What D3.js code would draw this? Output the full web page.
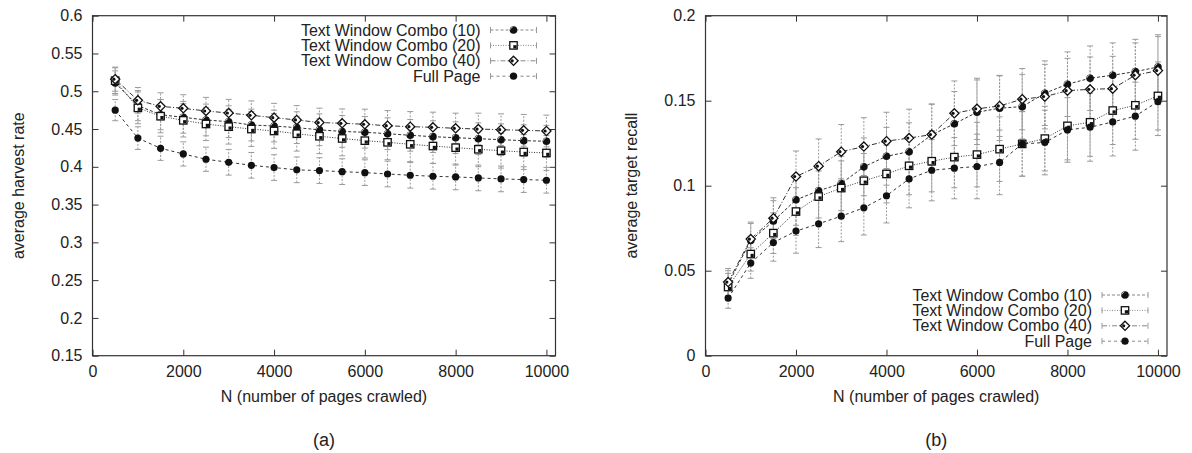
<!DOCTYPE html>
<html>
<head>
<meta charset="utf-8">
<script src="https://cdn.jsdelivr.net/npm/d3@7"></script>
<style>
  body { margin: 0; background: #fff; }
  svg text { font-family: "Liberation Sans", Arial, sans-serif; fill: #222; }
</style>
</head>
<body>
<svg id="chart" width="1192" height="453"></svg>
<script>
// ---- data ----
var pages = [500, 1000, 1500, 2000, 2500, 3000, 3500, 4000, 4500, 5000,
             5500, 6000, 6500, 7000, 7500, 8000, 8500, 9000, 9500, 10000];
var xTicks = [0, 2000, 4000, 6000, 8000, 10000];
var harvestTicks = [0.15, 0.2, 0.25, 0.3, 0.35, 0.4, 0.45, 0.5, 0.55, 0.6];
var recallTicks = [0, 0.05, 0.1, 0.15, 0.2];
var seriesNames = ["Text Window Combo (10)", "Text Window Combo (20)", "Text Window Combo (40)", "Full Page"];

// (a) average harvest rate
var harvest10 = [0.511, 0.481, 0.469, 0.4655, 0.462, 0.4597, 0.4553, 0.454, 0.4518, 0.449,
                 0.4468, 0.4457, 0.4438, 0.4417, 0.4399, 0.4385, 0.4372, 0.4359, 0.4346, 0.4338];
var harvest20 = [0.514, 0.478, 0.467, 0.4615, 0.4567, 0.4531, 0.45, 0.4474, 0.4438, 0.4404,
                 0.4375, 0.4346, 0.4324, 0.4298, 0.4275, 0.4253, 0.4232, 0.4213, 0.4196, 0.4183];
var harvest40 = [0.516, 0.488, 0.48, 0.4774, 0.4739, 0.4712, 0.4682, 0.465, 0.462, 0.4586,
                 0.4576, 0.4563, 0.4544, 0.4531, 0.4523, 0.451, 0.45, 0.4491, 0.4483, 0.4474];
var harvestFull = [0.475, 0.438, 0.4245, 0.417, 0.41, 0.406, 0.402, 0.399, 0.396, 0.395,
                   0.3936, 0.3923, 0.3905, 0.3888, 0.3875, 0.3866, 0.3853, 0.384, 0.3831, 0.3822];
var harvestErr10 = [0.016, 0.02, 0.02, 0.021, 0.021, 0.021, 0.021, 0.021, 0.021, 0.021,
                    0.021, 0.021, 0.021, 0.021, 0.021, 0.021, 0.021, 0.021, 0.021, 0.021];
var harvestErr20 = [0.017, 0.021, 0.022, 0.022, 0.022, 0.023, 0.023, 0.023, 0.023, 0.023,
                    0.023, 0.023, 0.023, 0.023, 0.023, 0.023, 0.023, 0.023, 0.023, 0.023];
var harvestErr40 = [0.016, 0.017, 0.018, 0.018, 0.018, 0.018, 0.019, 0.019, 0.019, 0.019,
                    0.019, 0.02, 0.02, 0.02, 0.02, 0.02, 0.021, 0.021, 0.021, 0.021];
var harvestErrFull = [0.014, 0.015, 0.016, 0.016, 0.016, 0.017, 0.017, 0.017, 0.017, 0.017,
                      0.017, 0.017, 0.017, 0.017, 0.017, 0.017, 0.017, 0.017, 0.017, 0.017];

// (b) average target recall
var recall10 = [0.042, 0.0678, 0.0792, 0.0917, 0.097, 0.1013, 0.1111, 0.1173, 0.12, 0.1299,
                0.1364, 0.1432, 0.1456, 0.1465, 0.1544, 0.1597, 0.1632, 0.165, 0.1671, 0.1698];
var recall20 = [0.0404, 0.0598, 0.0721, 0.0848, 0.0936, 0.0986, 0.1029, 0.1069, 0.1117, 0.1144,
                0.1168, 0.1183, 0.1215, 0.1246, 0.1277, 0.1352, 0.1373, 0.1442, 0.1473, 0.1528];
var recall40 = [0.0433, 0.0686, 0.0809, 0.1054, 0.1115, 0.12, 0.123, 0.1262, 0.128, 0.1301,
                0.1426, 0.1452, 0.1469, 0.1509, 0.1524, 0.1559, 0.1567, 0.1571, 0.165, 0.1677];
var recallFull = [0.0339, 0.0545, 0.0666, 0.0733, 0.0776, 0.0821, 0.087, 0.0941, 0.104, 0.1091,
                  0.1103, 0.1113, 0.1137, 0.1246, 0.1254, 0.1328, 0.1344, 0.1375, 0.1409, 0.1495];
var recallErr10 = [0.008, 0.01, 0.012, 0.015, 0.016, 0.016, 0.017, 0.017, 0.017, 0.018,
                   0.019, 0.019, 0.019, 0.019, 0.019, 0.019, 0.019, 0.019, 0.019, 0.019];
var recallErr20 = [0.008, 0.01, 0.012, 0.014, 0.015, 0.016, 0.016, 0.017, 0.017, 0.018,
                   0.018, 0.019, 0.019, 0.019, 0.019, 0.02, 0.02, 0.02, 0.02, 0.02];
var recallErr40 = [0.008, 0.01, 0.012, 0.015, 0.016, 0.016, 0.017, 0.017, 0.017, 0.018,
                   0.019, 0.018, 0.018, 0.018, 0.019, 0.019, 0.019, 0.019, 0.019, 0.02];
var recallErrFull = [0.006, 0.009, 0.011, 0.013, 0.014, 0.015, 0.016, 0.016, 0.017, 0.018,
                     0.018, 0.019, 0.019, 0.019, 0.019, 0.019, 0.02, 0.02, 0.02, 0.02];

// ---- styles per series ----
var markerKinds = ["half", "square", "diamond", "dot"];
var dashes = ["3,2", "1,1.5", "5,2,1,2", "3,3"];

var svg = d3.select("#chart");

function drawMarker(g, kind, x, y) {
    if (kind == "half") {
        // black disc with a white crescent top-left
        g.append("circle").attr("cx", x).attr("cy", y).attr("r", 3.8).attr("fill", "#111");
        g.append("path")
            .attr("d", "M" + (x - 3.3) + "," + (y + 0.2) + " A3.4,3.4 0 0 1 " + (x - 0.2) + "," + (y - 3.3) +
                       " A5.5,5.5 0 0 0 " + (x - 3.3) + "," + (y + 0.2) + "Z")
            .attr("fill", "#fff");
    } else if (kind == "square") {
        g.append("rect").attr("x", x - 3.7).attr("y", y - 3.7).attr("width", 7.4).attr("height", 7.4)
            .attr("fill", "#fff").attr("stroke", "#111").attr("stroke-width", 1.3);
        g.append("rect").attr("x", x - 0.2).attr("y", y - 0.2).attr("width", 3.2).attr("height", 3.2)
            .attr("fill", "#111");
    } else if (kind == "diamond") {
        g.append("path")
            .attr("d", "M" + x + "," + (y - 4.6) + " L" + (x + 4.6) + "," + y + " L" + x + "," + (y + 4.6) + " L" + (x - 4.6) + "," + y + "Z")
            .attr("fill", "#fff").attr("stroke", "#111").attr("stroke-width", 1.3);
        g.append("circle").attr("cx", x - 1.3).attr("cy", y).attr("r", 1.6).attr("fill", "#111");
    } else {
        g.append("circle").attr("cx", x).attr("cy", y).attr("r", 3.6).attr("fill", "#111");
    }
}

function drawPanel(p) {
    var x = d3.scaleLinear().domain([0, 10200]).range([p.left, p.right]);
    var y = d3.scaleLinear().domain(p.yDomain).range([p.bottom, p.top]);
    var g = svg.append("g");
    var fmt = function(d) { return String(+d.toFixed(2)); };

    // axes, gnuplot style: inward ticks mirrored on all sides
    g.append("g").attr("transform", "translate(0," + p.bottom + ")")
        .call(d3.axisBottom(x).tickValues(xTicks).tickSize(-6).tickPadding(10).tickFormat(d3.format("d")));
    g.append("g").attr("transform", "translate(0," + p.top + ")")
        .call(d3.axisTop(x).tickValues(xTicks).tickSize(-6).tickFormat(""));
    g.append("g").attr("transform", "translate(" + p.left + ",0)")
        .call(d3.axisLeft(y).tickValues(p.yTicks).tickSize(-6).tickPadding(10).tickFormat(fmt));
    g.append("g").attr("transform", "translate(" + p.right + ",0)")
        .call(d3.axisRight(y).tickValues(p.yTicks).tickSize(-6).tickFormat(""));
    g.selectAll(".domain").remove();
    g.selectAll(".tick line").attr("stroke", "#333");
    g.selectAll(".tick text").attr("font-size", 16).attr("fill", "#222")
        .style("font-family", "'Liberation Sans', Arial, sans-serif");

    g.append("rect").attr("x", p.left).attr("y", p.top)
        .attr("width", p.right - p.left).attr("height", p.bottom - p.top)
        .attr("fill", "none").attr("stroke", "#333").attr("stroke-width", 1.2);

    // error bars
    p.series.forEach(function(s, si) {
        var eg = g.append("g").attr("stroke", "#9a9a9a").attr("stroke-width", 1).attr("fill", "none");
        pages.forEach(function(n, i) {
            var cx = x(n), lo = y(s.values[i] - s.err[i]), hi = y(s.values[i] + s.err[i]);
            eg.append("line").attr("x1", cx).attr("x2", cx).attr("y1", lo).attr("y2", hi)
                .attr("stroke-dasharray", "2,1.5");
            eg.append("line").attr("x1", cx - 3).attr("x2", cx + 3).attr("y1", lo).attr("y2", lo);
            eg.append("line").attr("x1", cx - 3).attr("x2", cx + 3).attr("y1", hi).attr("y2", hi);
        });
    });

    // lines
    var line = d3.line().x(function(d) { return x(d[0]); }).y(function(d) { return y(d[1]); });
    p.series.forEach(function(s, si) {
        g.append("path").datum(d3.zip(pages, s.values)).attr("d", line)
            .attr("fill", "none").attr("stroke", "#333").attr("stroke-width", 1)
            .attr("stroke-dasharray", dashes[si]);
    });

    // markers
    p.series.forEach(function(s, si) {
        var mg = g.append("g");
        pages.forEach(function(n, i) { drawMarker(mg, markerKinds[si], x(n), y(s.values[i])); });
    });

    // legend
    var lg = g.append("g");
    seriesNames.forEach(function(name, i) {
        var ly = p.legendY + i * 15.4;
        var mx = p.right - 42;
        lg.append("text").attr("x", p.right - 75).attr("y", ly).attr("dy", "0.35em")
            .attr("text-anchor", "end").attr("font-size", 16).text(name);
        lg.append("line").attr("x1", mx - 23).attr("x2", mx + 23).attr("y1", ly).attr("y2", ly)
            .attr("stroke", "#888").attr("stroke-dasharray", dashes[i]);
        [mx - 23, mx + 23].forEach(function(cx) {
            lg.append("line").attr("x1", cx).attr("x2", cx).attr("y1", ly - 3).attr("y2", ly + 3)
                .attr("stroke", "#999");
        });
        drawMarker(lg, markerKinds[i], mx, ly);
    });

    // labels
    var cxm = (p.left + p.right) / 2;
    g.append("text").attr("x", cxm).attr("y", 402).attr("text-anchor", "middle")
        .attr("font-size", 16).text("N (number of pages crawled)");
    g.append("text").attr("x", cxm).attr("y", 446).attr("text-anchor", "middle")
        .attr("font-size", 18).text(p.tag);
    g.append("text").attr("transform", "translate(" + p.yLabelX + "," + ((p.top + p.bottom) / 2) + ") rotate(-90)")
        .attr("text-anchor", "middle").attr("dy", "0.35em").attr("font-size", 16).text(p.yLabel);
}

drawPanel({
    left: 92.5, right: 555.5, top: 15.7, bottom: 355.7,
    yDomain: [0.15, 0.6], yTicks: harvestTicks,
    yLabel: "average harvest rate", yLabelX: 18, tag: "(a)", legendY: 30,
    series: [
        { values: harvest10, err: harvestErr10 },
        { values: harvest20, err: harvestErr20 },
        { values: harvest40, err: harvestErr40 },
        { values: harvestFull, err: harvestErrFull }
    ]
});

drawPanel({
    left: 705.5, right: 1167, top: 15.7, bottom: 355.7,
    yDomain: [0, 0.2], yTicks: recallTicks,
    yLabel: "average target recall", yLabelX: 631, tag: "(b)", legendY: 295,
    series: [
        { values: recall10, err: recallErr10 },
        { values: recall20, err: recallErr20 },
        { values: recall40, err: recallErr40 },
        { values: recallFull, err: recallErrFull }
    ]
});
</script>
</body>
</html>
